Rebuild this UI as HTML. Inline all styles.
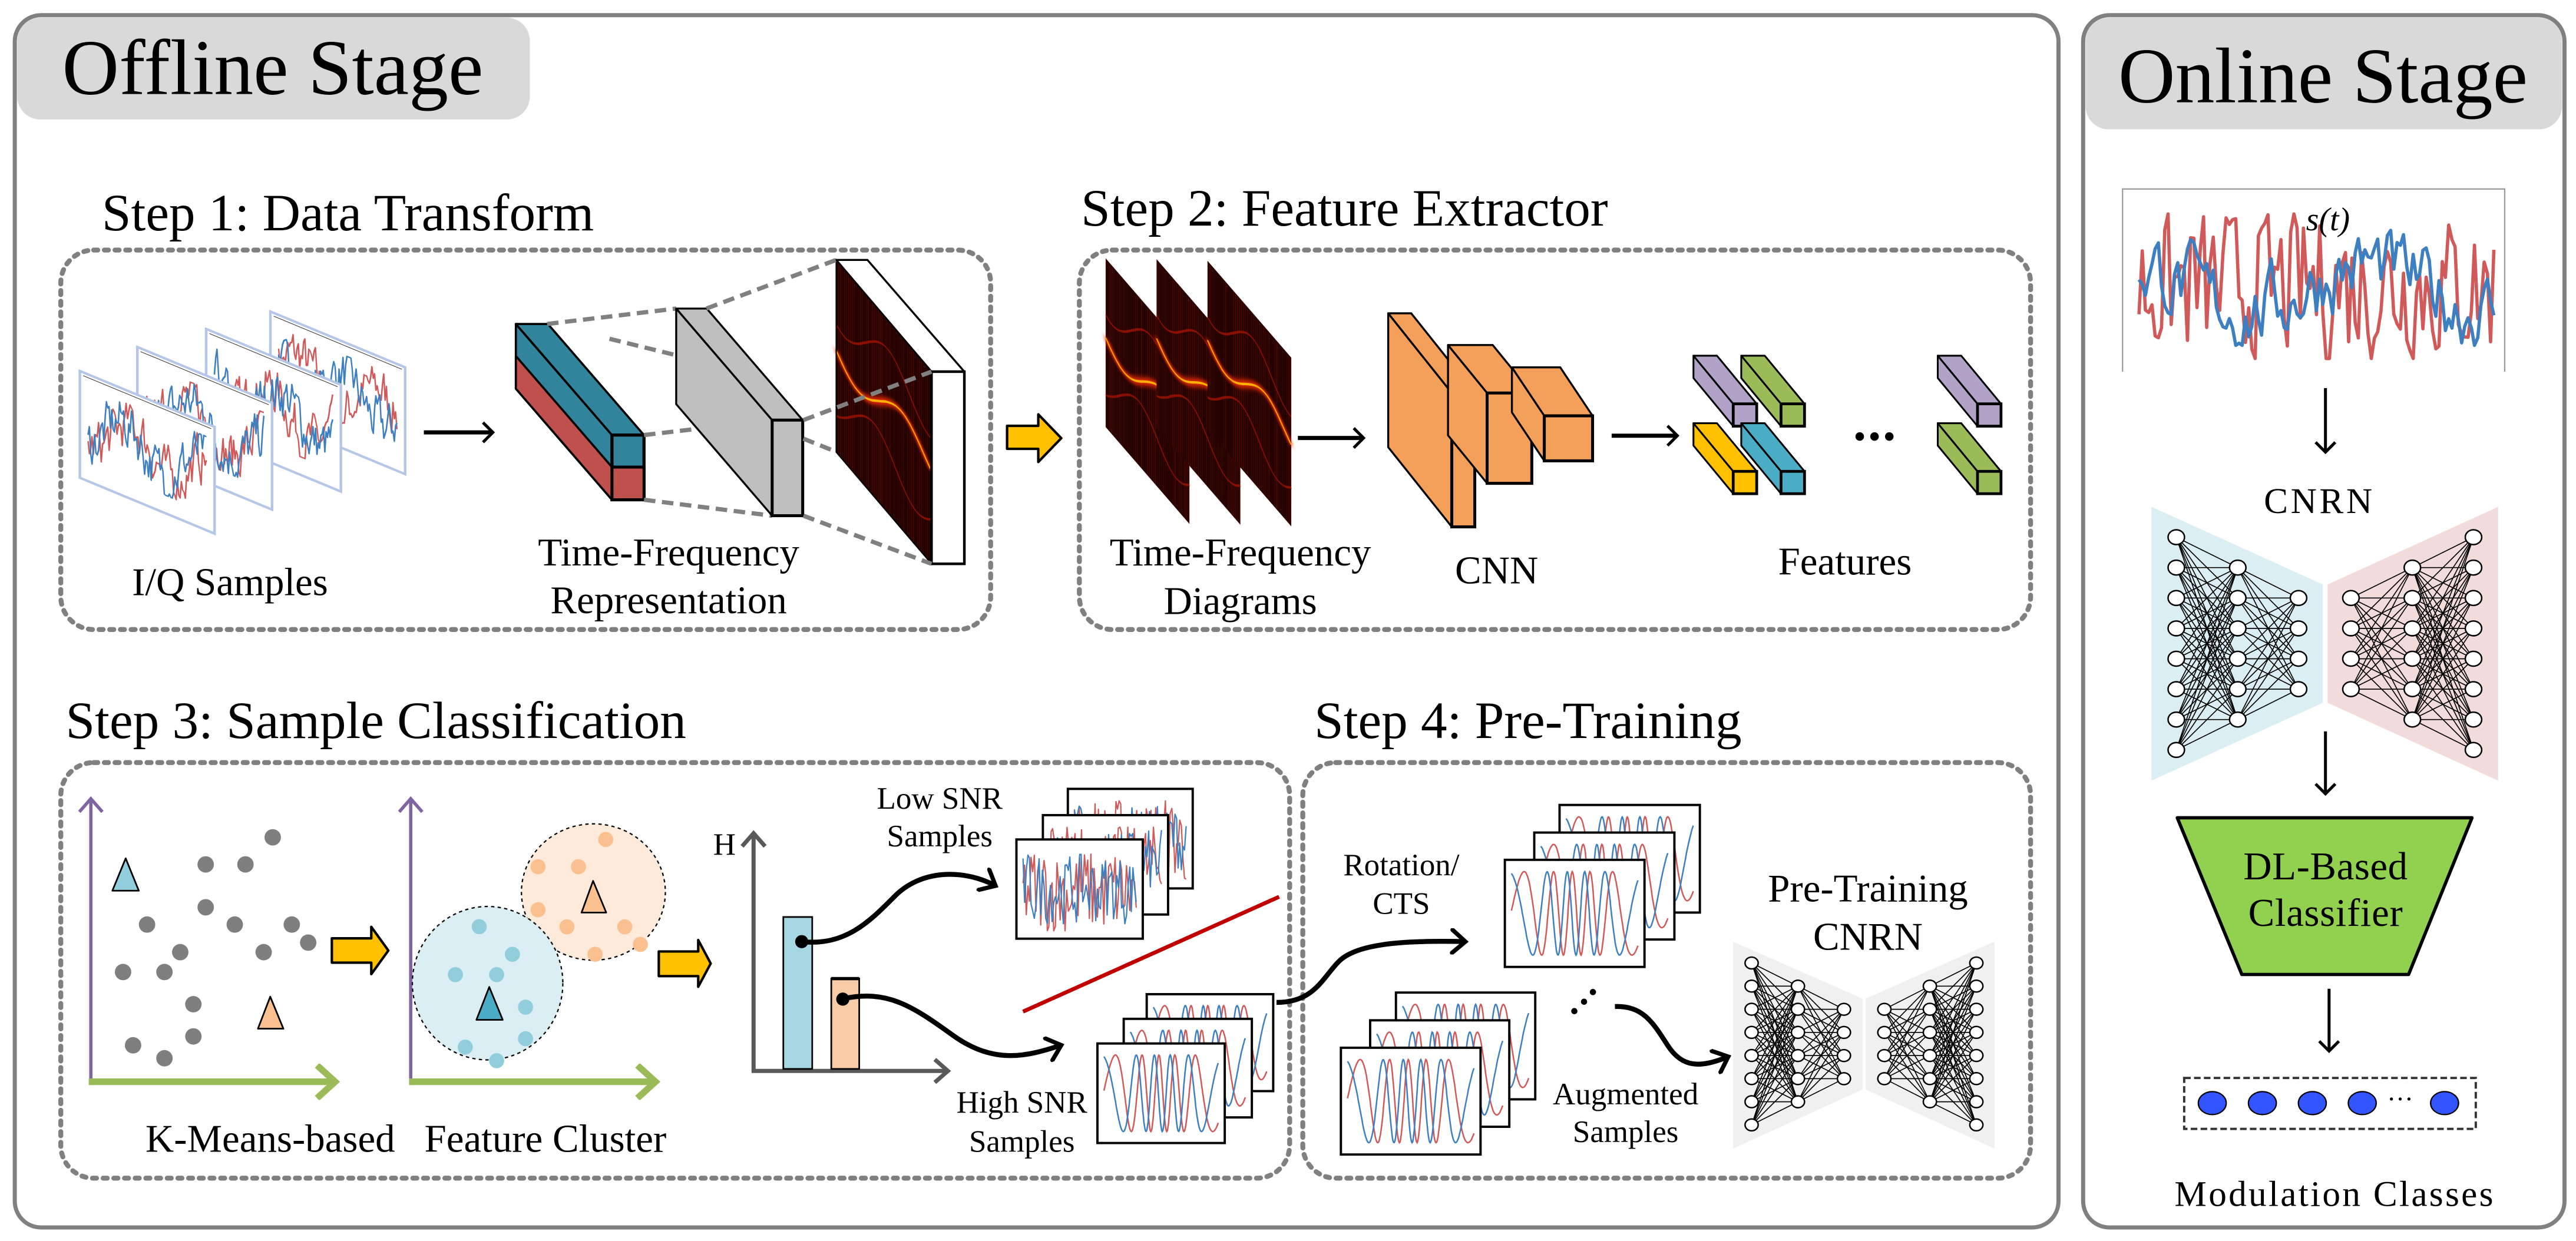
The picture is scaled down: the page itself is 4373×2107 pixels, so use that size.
<!DOCTYPE html>
<html><head><meta charset="utf-8"><style>
html,body{margin:0;padding:0;background:#fff;}
svg{display:block;font-family:"Liberation Serif","Times New Roman",serif;}
text{font-family:"Liberation Serif","Times New Roman",serif;fill:#000;}
</style></head><body>
<svg id="s" xmlns="http://www.w3.org/2000/svg" width="4373" height="2107" viewBox="0 0 1568 755" font-family="Liberation Serif, serif">
<defs>
<marker id="ah" markerUnits="userSpaceOnUse" markerWidth="14" markerHeight="16" refX="11" refY="8" orient="auto">
<path d="M3,1 L11,8 L3,15" fill="none" stroke="#000" stroke-width="2.6" stroke-linecap="round"/>
</marker>
<marker id="ahs" markerUnits="userSpaceOnUse" markerWidth="12" markerHeight="14" refX="9" refY="7" orient="auto">
<path d="M3,1 L9,7 L3,13" fill="none" stroke="#000" stroke-width="1.8"/>
</marker>
<marker id="ahg" markerUnits="userSpaceOnUse" markerWidth="14" markerHeight="16" refX="11" refY="8" orient="auto">
<path d="M3,1 L11,8 L3,15" fill="none" stroke="#595959" stroke-width="2.5"/>
</marker>
<marker id="ahp" markerUnits="userSpaceOnUse" markerWidth="14" markerHeight="16" refX="11" refY="8" orient="auto">
<path d="M3,1 L11,8 L3,15" fill="none" stroke="#8064a2" stroke-width="2"/>
</marker>
<marker id="ahgr" markerUnits="userSpaceOnUse" markerWidth="18" markerHeight="22" refX="14" refY="11" orient="auto">
<path d="M3,1 L14,11 L3,21" fill="none" stroke="#9bbb59" stroke-width="4"/>
</marker>
<filter id="glow" x="-20%" y="-20%" width="140%" height="140%"><feGaussianBlur stdDeviation="1.2"/></filter>
</defs>
<g id="content"></g>
</svg>
<script>
(function(){
let seed=7;
function rnd(){seed=(seed*16807)%2147483647;return seed/2147483647;}
let s='';
const FF='font-family="Liberation Serif, Times New Roman, serif"';
function t(x,y,str,size,anchor,extra){s+=`<text x="${x}" y="${y}" font-size="${size}" ${FF} text-anchor="${anchor||'middle'}" ${extra||''}>${str}</text>`;}
function poly(pts,fill,stroke,sw){s+=`<polygon points="${pts.map(p=>p[0].toFixed(1)+','+p[1].toFixed(1)).join(' ')}" fill="${fill}" stroke="${stroke||'#000'}" stroke-width="${sw||1.2}" stroke-linejoin="round"/>`;}
function box(bx,by,dx,dy,w,h,fill,sw){
 sw=sw||1.2;
 poly([[bx,by],[bx+dx,by+dy],[bx+dx,by+dy+h],[bx,by+h]],fill,'#000',sw);
 poly([[bx,by],[bx+w,by],[bx+w+dx,by+dy],[bx+dx,by+dy]],fill,'#000',sw);
 s+=`<rect x="${bx+dx}" y="${by+dy}" width="${w}" height="${h}" fill="${fill}" stroke="#000" stroke-width="${sw+0.6}"/>`;
}
function pathPts(pts){return 'M'+pts.map(p=>p[0].toFixed(1)+','+p[1].toFixed(1)).join(' L');}
function noisy(x0,y0,w,h,n,smooth,color,sw,lf){
 let pts=[],v=0,ph=rnd()*6;
 for(let i=0;i<=n;i++){
  v=smooth*v+(1-smooth)*(rnd()-0.5)*2.4;
  let val=v+(lf||0)*Math.sin(ph+i/n*Math.PI*2*1.5);
  val=Math.max(-1,Math.min(1,val));
  pts.push([x0+w*i/n,y0+h/2-val*h/2]);
 }
 s+=`<path d="${pathPts(pts)}" fill="none" stroke="${color}" stroke-width="${sw}" stroke-linejoin="round"/>`;
}
function fm(x0,y0,w,h,color,off,sw){
 let pts=[],ph=off;
 for(let i=0;i<=200;i++){
  let x=i/200;
  let f=0.05+0.12*(0.5+0.5*Math.sin(x*6-1.5));
  ph+=f*1.35;
  pts.push([x0+w*x,y0+h/2-h*0.46*Math.sin(ph)]);
 }
 s+=`<path d="${pathPts(pts)}" fill="none" stroke="${color}" stroke-width="${sw||0.9}"/>`;
}
function frame(x1,y1,x2,y2,kind){
 s+=`<rect x="${x1}" y="${y1}" width="${x2-x1}" height="${y2-y1}" fill="#fff" stroke="#000" stroke-width="1.4"/>`;
 let w=x2-x1,h=y2-y1;
 if(kind==='low'){
  noisy(x1+4,y1+h*0.12,w-8,h*0.8,70,0.1,'#d05a5a',0.8);
  noisy(x1+4,y1+h*0.15,w-8,h*0.7,70,0.2,'#3d7fc0',0.8);
 } else {
  fm(x1+4,y1+5,w-8,h-10,'#d05a5a',0,0.9);
  fm(x1+4,y1+5,w-8,h-10,'#3d7fc0',1.8,0.9);
 }
}
function heat(tx,ty,W,rise,H){
 s+=`<g transform="matrix(1,${rise/W},0,1,${tx},${ty})">`;
 s+=`<rect x="0" y="0" width="${W}" height="${H}" fill="#1c0200"/>`;
 for(let x=0;x<W;x+=1.2){
  s+=`<rect x="${x}" y="0" width="0.6" height="${H}" fill="#8a0d00" opacity="${(0.15+rnd()*0.35).toFixed(2)}"/>`;
 }
 let p1=[],p2=[],p3=[];
 for(let i=0;i<=40;i++){
  let x=W*i/40;
  p1.push([x,H*0.47+H*0.08*Math.sin(i/40*Math.PI*2.2)]);
  p2.push([x,H*0.25+H*0.1*Math.sin(i/40*Math.PI*2.2+1)]);
  p3.push([x,H*0.72+H*0.1*Math.sin(i/40*Math.PI*2.2+2)]);
 }
 s+=`<path d="${pathPts(p2)}" fill="none" stroke="#b01500" stroke-width="1" opacity="0.7"/>`;
 s+=`<path d="${pathPts(p3)}" fill="none" stroke="#b01500" stroke-width="1" opacity="0.7"/>`;
 s+=`<path d="${pathPts(p1)}" fill="none" stroke="#ff3000" stroke-width="3" filter="url(#glow)"/>`;
 s+=`<path d="${pathPts(p1)}" fill="none" stroke="#ffb000" stroke-width="1"/>`;
 s+=`</g>`;
}
function net(layers,r,sw){
 for(let k=0;k<layers.length-1;k++){
  let A=layers[k],B=layers[k+1];
  for(let i=0;i<A.n;i++)for(let j=0;j<B.n;j++){
   s+=`<line x1="${A.x}" y1="${A.y0+i*A.dy}" x2="${B.x}" y2="${B.y0+j*B.dy}" stroke="#000" stroke-width="${sw}"/>`;
  }
 }
 layers.forEach(L=>{for(let i=0;i<L.n;i++)s+=`<ellipse cx="${L.x}" cy="${L.y0+i*L.dy}" rx="${r}" ry="${r*0.9}" fill="#fff" stroke="#000" stroke-width="0.9"/>`;});
}
function yarrow(x1,x2,xh,yb1,yb2,yh1,yh2){
 let ym=(yh1+yh2)/2;
 poly([[x1,yb1],[xh,yb1],[xh,yh1],[x2,ym],[xh,yh2],[xh,yb2],[x1,yb2]],'#ffc000','#000',1.5);
}

// ===== Outer panels =====
s+=`<rect x="9" y="9" width="1244" height="738" rx="16" fill="#fff" stroke="#808080" stroke-width="2.5"/>`;
s+=`<rect x="10.5" y="10.5" width="312" height="62" rx="14" fill="#d9d9d9"/>`;
t(166,57,'Offline Stage',48);
s+=`<rect x="1268" y="9" width="293" height="738" rx="16" fill="#fff" stroke="#808080" stroke-width="2.5"/>`;
s+=`<rect x="1269.5" y="10.5" width="290" height="68" rx="14" fill="#d9d9d9"/>`;
t(1414,62,'Online Stage',48);

// ===== Step boxes =====
const dash='fill="none" stroke="#808080" stroke-width="3" stroke-dasharray="2.5 4" stroke-linecap="round"';
s+=`<rect x="37" y="152" width="566" height="231" rx="20" ${dash}/>`;
s+=`<rect x="657" y="152" width="579" height="231" rx="20" ${dash}/>`;
s+=`<rect x="37" y="464" width="748" height="253" rx="20" ${dash}/>`;
s+=`<rect x="793" y="464" width="443" height="253" rx="20" ${dash}/>`;
t(62,140,'Step 1: Data Transform',32,'start');
t(658,137,'Step 2: Feature Extractor',32,'start');
t(40,449,'Step 3: Sample Classification',32,'start');
t(800,449,'Step 4: Pre-Training',32,'start');

// ===== Step 1 =====
[[164.6,189.4],[125.5,200],[83.6,211],[48.6,225.6]].forEach(f=>{
 s+=`<g transform="matrix(1,${34/82},0,1,${f[0]},${f[1]})">`;
 s+=`<rect x="0" y="0" width="82" height="65" fill="#fff" stroke="#b4c7e7" stroke-width="1.6"/>`;
 s+=`<line x1="2" y1="2" x2="80" y2="2" stroke="#333" stroke-width="0.4"/>`;
 noisy(5,8,72,46,90,0.55,'#d05a5a',0.9,0.5);
 noisy(5,8,72,46,90,0.55,'#3d7fc0',0.9,0.5);
 s+=`</g>`;
});
s+=`<line x1="258" y1="263" x2="300" y2="263" stroke="#000" stroke-width="2.5" marker-end="url(#ahs)"/>`;
box(314,197,58.5,67.6,19.5,39.4,'#31849b',1.3);
poly([[314,216.5],[372.5,284.1],[372.5,304],[314,236.4]],'#c0504d','#000',1.3);
s+=`<rect x="372.5" y="284.1" width="19.5" height="19.9" fill="#c0504d" stroke="#000" stroke-width="1.8"/>`;
const gd='stroke="#808080" stroke-width="2.6" stroke-dasharray="7 4"';
s+=`<line x1="333" y1="197" x2="411.6" y2="187.6" ${gd}/>`;
s+=`<line x1="371" y1="206" x2="411.6" y2="216" ${gd}/>`;
s+=`<line x1="392" y1="264.6" x2="470" y2="255.5" ${gd}/>`;
s+=`<line x1="392" y1="304" x2="470" y2="313.7" ${gd}/>`;
box(411.6,187.6,58.4,67.9,18.6,58.2,'#bfbfbf',1.2);
poly([[509,158],[528,158],[587,226],[567,226]],'#fff','#000',1.2);
heat(509,158,58,68,117);
s+=`<polygon points="509,158 567,226 567,343 509,275" fill="none" stroke="#000" stroke-width="0.8"/>`;
s+=`<rect x="567" y="226" width="20" height="117" fill="#fff" stroke="#000" stroke-width="1.6"/>`;
s+=`<line x1="430" y1="187.6" x2="509" y2="158" ${gd}/>`;
s+=`<line x1="489" y1="255.5" x2="567" y2="226" ${gd}/>`;
s+=`<line x1="489" y1="266.8" x2="509" y2="274.8" ${gd}/>`;
s+=`<line x1="489" y1="313.7" x2="567" y2="343" ${gd}/>`;
t(140,362,'I/Q Samples',24);
t(407,344,'Time-Frequency',24);
t(407,373,'Representation',24);
yarrow(613,646,632,259,273,252,281);

// ===== Step 2 =====
[[673,157],[704,157.5],[735,158.5]].forEach(f=>{heat(f[0],f[1],51,59,102.7);});
s+=`<line x1="790" y1="266.4" x2="830" y2="266.4" stroke="#000" stroke-width="2.5" marker-end="url(#ahs)"/>`;
box(845,190.5,38.7,48.5,14,81.5,'#f4a05a',1.2);
box(881.4,209.8,23.8,29.2,27.2,55,'#f4a05a',1.2);
box(920.3,223.4,19.7,29.5,29.4,27.4,'#f4a05a',1.2);
s+=`<line x1="981" y1="265" x2="1021" y2="265" stroke="#000" stroke-width="2.5" marker-end="url(#ahs)"/>`;
const fb=(x,y,c)=>box(x,y,24.2,29.3,14.3,13.6,c,1.1);
fb(1030.8,216.3,'#b3a2c7');fb(1059.9,216.3,'#9bbb59');
fb(1030.8,257.4,'#ffc000');fb(1059.9,257.4,'#4bacc6');
fb(1179.5,216.3,'#b3a2c7');fb(1179.5,257.4,'#9bbb59');
[1132,1141,1150].forEach(x=>s+=`<circle cx="${x}" cy="265.5" r="2.6" fill="#000"/>`);
t(755,344,'Time-Frequency',24);
t(755,373.5,'Diagrams',24);
t(911,355,'CNN',24);
t(1123,349.5,'Features',24);

// ===== Step 3 =====
s+=`<line x1="55.3" y1="659" x2="55.3" y2="486" stroke="#8064a2" stroke-width="2" marker-end="url(#ahp)"/>`;
s+=`<line x1="54" y1="658.3" x2="204" y2="658.3" stroke="#9bbb59" stroke-width="4" marker-end="url(#ahgr)"/>`;
s+=`<line x1="250" y1="659" x2="250" y2="486" stroke="#8064a2" stroke-width="2" marker-end="url(#ahp)"/>`;
s+=`<line x1="249" y1="658.3" x2="399" y2="658.3" stroke="#9bbb59" stroke-width="4" marker-end="url(#ahgr)"/>`;
[[330,335],[249,425],[297,425],[249,568],[178,625],[284,625],[353,625],[373,685],[218,717],[319,717],[149,783],[199,783],[234,890],[234,997],[161,1027],[199,1070]].forEach(p=>{
 s+=`<circle cx="${(p[0]*0.503).toFixed(1)}" cy="${(448.2+p[1]*0.183).toFixed(1)}" r="5" fill="#7f7f7f"/>`;});
poly([[76.5,522.3],[84.5,542],[68.4,542]],'#92cddc','#000',1);
poly([[164.5,606.5],[172.5,626],[157,626]],'#fac090','#000',1);
yarrow(202,236.4,226,571,585.8,564,592.8);
s+=`<ellipse cx="361.2" cy="542.8" rx="43.8" ry="41.5" fill="#fdeada" stroke="#000" stroke-width="0.8" stroke-dasharray="2 2"/>`;
s+=`<ellipse cx="296.8" cy="598.3" rx="45.8" ry="46.7" fill="#dbeef4" stroke="#000" stroke-width="0.8" stroke-dasharray="2 2"/>`;
[[733,342],[651,433],[700,433],[651,576],[686,633],[756,633],[775,691],[720,724]].forEach(p=>{
 s+=`<circle cx="${(p[0]*0.503).toFixed(1)}" cy="${(448.2+p[1]*0.183).toFixed(1)}" r="4.6" fill="#fac090"/>`;});
[[580,632],[620,724],[551,792],[601,792],[636,900],[636,1005],[563,1033],[601,1078]].forEach(p=>{
 s+=`<circle cx="${(p[0]*0.503).toFixed(1)}" cy="${(448.2+p[1]*0.183).toFixed(1)}" r="4.6" fill="#92cddc"/>`;});
poly([[361,536],[369,555.3],[354,555.3]],'#fac090','#000',1);
poly([[297.8,600.6],[306,620.6],[290,620.6]],'#4bacc6','#000',1);
yarrow(401,432.6,425,579,594,572,600.5);
s+=`<line x1="458.7" y1="652.5" x2="458.7" y2="507" stroke="#595959" stroke-width="2.5" marker-end="url(#ahg)"/>`;
s+=`<line x1="457.5" y1="651.7" x2="577" y2="651.7" stroke="#595959" stroke-width="2.5" marker-end="url(#ahg)"/>`;
t(441,520,'H',19);
s+=`<rect x="476.8" y="558" width="17.6" height="92.5" fill="#a6d7e3" stroke="#000" stroke-width="1"/>`;
s+=`<rect x="506" y="595.5" width="17" height="55" fill="#f9cba6" stroke="#000" stroke-width="1"/>`;
s+=`<line x1="506" y1="595.5" x2="523" y2="595.5" stroke="#000" stroke-width="2"/>`;
frame(650,480,726,540.6,'low');frame(634.8,496,711,556.5,'low');frame(618.7,510.8,695.6,571.2,'low');
t(572,492,'Low SNR',19);t(572,515,'Samples',19);
s+=`<line x1="622.7" y1="615.6" x2="778.6" y2="545.7" stroke="#c00000" stroke-width="2.4"/>`;
frame(698,605,775,664,'high');frame(684,620,762,680,'high');frame(668,635,745.5,695.6,'high');
t(622,677,'High SNR',19);t(622,701,'Samples',19);
s+=`<circle cx="488" cy="573" r="4" fill="#000"/><circle cx="513" cy="608" r="4" fill="#000"/>`;
s+=`<path d="M488,573 C515,576 530,560 545,545 S585,528 606,539" fill="none" stroke="#000" stroke-width="3" marker-end="url(#ah)"/>`;
s+=`<path d="M513,607.8 C540,602 555,612 580,630 S625,643 646,636" fill="none" stroke="#000" stroke-width="3" marker-end="url(#ah)"/>`;
t(164.5,701,'K-Means-based',24);
t(332,701,'Feature Cluster',24);

// ===== Step 4 =====
frame(949.3,489.8,1034.7,555.3,'high');frame(933.9,506.6,1019.2,571.7,'high');frame(916,523.2,1001,588.4,'high');
t(853,532.5,'Rotation/',19);t(853,556,'CTS',19);
s+=`<path d="M777,610 C800,610 805,595 815,585 S850,572 892,573" fill="none" stroke="#000" stroke-width="3" marker-end="url(#ah)"/>`;
frame(849.7,604,934.5,669,'high');frame(834,620.9,918.7,685.7,'high');frame(816.2,637.6,901.2,702.6,'high');
[[958.3,615.3],[964.2,609.6],[969.6,603.7]].forEach(p=>s+=`<circle cx="${p[0]}" cy="${p[1]}" r="1.9" fill="#000"/>`);
s+=`<path d="M983,612.5 C1000,612 1006,622 1015,636 S1035,650 1052,643" fill="none" stroke="#000" stroke-width="3" marker-end="url(#ah)"/>`;
t(989.5,672,'Augmented',19);t(989.5,695,'Samples',19);
t(1137,548.5,'Pre-Training',24);t(1137,578,'CNRN',24);
s+=`<polygon points="1054.9,573 1133.7,607.7 1133.7,663 1054.9,699" fill="#f0f0f0"/>`;
s+=`<polygon points="1135.7,607.7 1214,573 1214,699 1135.7,663" fill="#f0f0f0"/>`;
net([{x:1066.2,n:8,y0:586,dy:14.08},{x:1094.4,n:6,y0:600.1,dy:14.08},{x:1122.4,n:4,y0:614.2,dy:14.08}],4,0.6);
net([{x:1147,n:4,y0:614.2,dy:14.08},{x:1174.7,n:6,y0:600.1,dy:14.08},{x:1203,n:8,y0:586,dy:14.08}],4,0.6);

// ===== Online =====
s+=`<path d="M1292,226 L1292,114.8 L1524.6,114.8 L1524.6,226" fill="none" stroke="#999" stroke-width="0.8"/>`;
noisy(1302,130,216,88,110,0.2,'#d05a5a',2);
noisy(1302,140,216,70,110,0.55,'#3d7fc0',2,0.4);
t(1417,140,'s(<tspan font-style="italic">t</tspan>)',20,'middle','font-style="italic"');
s+=`<line x1="1415.5" y1="236" x2="1415.5" y2="275" stroke="#000" stroke-width="1.8" marker-end="url(#ahs)"/>`;
t(1411,312,'CNRN',22,'middle','textLength="66"');
s+=`<polygon points="1309.6,308.3 1413.9,355.6 1413.9,427.6 1309.6,475" fill="#dbeef4"/>`;
s+=`<polygon points="1416.8,355.6 1520.6,308.3 1520.6,475 1416.8,427.6" fill="#f2dcdb"/>`;
net([{x:1324.7,n:8,y0:326.8,dy:18.5},{x:1362.1,n:6,y0:345.3,dy:18.5},{x:1399.1,n:4,y0:363.8,dy:18.5}],5,0.6);
net([{x:1431,n:4,y0:363.8,dy:18.5},{x:1468.4,n:6,y0:345.3,dy:18.5},{x:1505.6,n:8,y0:326.8,dy:18.5}],5,0.6);
s+=`<line x1="1415.5" y1="445" x2="1415.5" y2="483" stroke="#000" stroke-width="1.8" marker-end="url(#ahs)"/>`;
poly([[1325.3,497.6],[1504.7,497.6],[1466.1,593],[1364.6,593]],'#92d050','#000',2);
t(1415.5,535,'DL-Based',24,'middle','textLength="100"');
t(1415.5,563.5,'Classifier',24,'middle','textLength="94"');
s+=`<line x1="1417.7" y1="601.7" x2="1417.7" y2="639.6" stroke="#000" stroke-width="1.8" marker-end="url(#ahs)"/>`;
s+=`<rect x="1329.5" y="656" width="177.5" height="31" fill="#fff" stroke="#333" stroke-width="1.4" stroke-dasharray="4 2"/>`;
[1346.6,1377.1,1407.5,1437.9,1488].forEach(x=>s+=`<ellipse cx="${x}" cy="671.3" rx="8.5" ry="7" fill="#3355ff" stroke="#000" stroke-width="0.8"/>`);
t(1461,674,'···',16);
t(1420.6,734,'Modulation Classes',22,'middle','textLength="194"');

document.getElementById('content').innerHTML=s;
})();
</script>
</body></html>
